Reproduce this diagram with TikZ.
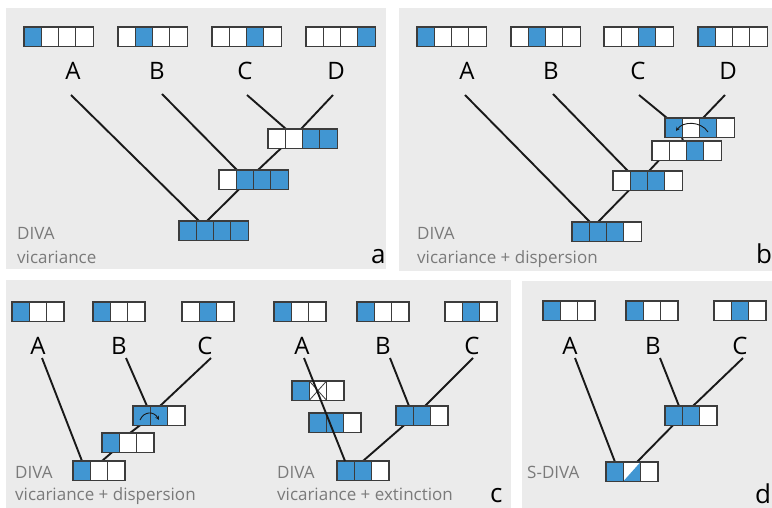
\documentclass[tikz,border=0pt]{standalone}
\usepackage{fontspec}
\setmainfont{Open Sans}
\usetikzlibrary{arrows.meta}
\pgfdeclarelayer{bg}
\pgfsetlayers{bg,main}
\definecolor{bgcol}{HTML}{EBEBEB}
\definecolor{divablue}{HTML}{4196D2}
\definecolor{boxline}{HTML}{3C3C3C}
\definecolor{txtgray}{HTML}{7A7A7A}
\def\cw{17.3}
\def\ch{19.3}
\newcommand\cellrow[5]{% name, x, y, n, pattern
  \foreach \v [count=\i] in {#5}{%
    \edef\cellcmd{\noexpand\path[cell-\v]}%
    \cellcmd ({#2+(\i-1)*\cw},#3) rectangle ++(\cw,\ch);
  }
  \node[rowbox, minimum width={#4*\cw}, anchor=north west] (#1) at (#2,#3) {};
}
\tikzset{
  panel/.style={fill=bgcol},
  branch/.style={draw=black!90, line width=1.9pt},
  taxon/.style={font=\fontsize{24}{28}\selectfont, anchor=base, inner sep=0pt},
  method/.style={font=\fontsize{17}{20}\selectfont, text=txtgray, anchor=base west, inner sep=0pt},
  panellabel/.style={font=\fontsize{26}{30}\selectfont, anchor=base west, inner sep=0pt},
  disp/.style={draw=black!90, line width=0.9pt, -{Stealth[length=4pt,width=4pt]}},
  rowbox/.style={draw=boxline, line width=1.2pt, inner sep=0pt, outer sep=0pt, minimum height={\ch}},
  cell-b/.style={fill=divablue, draw=boxline, line width=0.9pt},
  cell-w/.style={fill=white, draw=boxline, line width=0.9pt},
  cell-x/.style={fill=white, draw=boxline, line width=0.9pt,
    path picture={\draw[boxline, line width=0.8pt]
      (path picture bounding box.north west) -- (path picture bounding box.south east)
      (path picture bounding box.south west) -- (path picture bounding box.north east);}},
  cell-h/.style={fill=white, draw=boxline, line width=0.9pt,
    path picture={\fill[divablue]
      (path picture bounding box.south west) -- (path picture bounding box.south east)
      -- (path picture bounding box.north east) -- cycle;}},
}
\begin{document}
\begin{tikzpicture}[x=1pt,y=-1pt]
\useasboundingbox (0,0) rectangle (772,508);
\begin{pgfonlayer}{bg}
  \fill[panel] (6,8) rectangle (386,269);
  \fill[panel] (399,8) rectangle (772,271);
  \fill[panel] (6,280) rectangle (511,508);
  \fill[panel] (522,281) rectangle (772,508);
\end{pgfonlayer}

% ---------------- panel a ----------------
\cellrow{a-sA}{24}{27}{4}{b,w,w,w}
\cellrow{a-sB}{118}{27}{4}{w,b,w,w}
\cellrow{a-sC}{212}{27}{4}{w,w,b,w}
\cellrow{a-sD}{306}{27}{4}{w,w,w,b}
\node[taxon] (a-A) at (73,80) {A};
\node[taxon] (a-B) at (157,80) {B};
\node[taxon] (a-C) at (245,80) {C};
\node[taxon] (a-D) at (336,80) {D};
\coordinate (a-tA) at (71,95);
\coordinate (a-tB) at (162,94);
\coordinate (a-tC) at (247,95);
\coordinate (a-tD) at (333,95);
\cellrow{a-r}{179}{221}{4}{b,b,b,b}
\cellrow{a-n2}{219}{170}{4}{w,b,b,b}
\cellrow{a-n3}{268}{129}{4}{w,w,b,b}
\begin{pgfonlayer}{bg}
  \draw[branch] (a-tA) -- ([xshift=20pt]a-r.north west);
  \draw[branch] ([xshift=28pt]a-r.north west) -- ([xshift=20pt]a-n2.south west);
  \draw[branch] (a-tB) -- ([xshift=18pt]a-n2.north west);
  \draw[branch] ([xshift=39pt]a-n2.north west) -- ([xshift=13pt]a-n3.south west);
  \draw[branch] (a-tC) -- ([xshift=18pt]a-n3.north west);
  \draw[branch] (a-tD) -- ([xshift=33pt]a-n3.north west);
\end{pgfonlayer}
\node[method] (a-m1) at (17,240) {DIVA};
\node[method] (a-m2) at (17,263) {vicariance};
\node[panellabel] (a-lab) at (371,263) {a};

% ---------------- panel b ----------------
\cellrow{b-sA}{417}{27}{4}{b,w,w,w}
\cellrow{b-sB}{511}{27}{4}{w,b,w,w}
\cellrow{b-sC}{604}{27}{4}{w,w,b,w}
\cellrow{b-sD}{698}{27}{4}{b,w,w,w}
\node[taxon] (b-A) at (467,80) {A};
\node[taxon] (b-B) at (551,80) {B};
\node[taxon] (b-C) at (638,80) {C};
\node[taxon] (b-D) at (728,80) {D};
\coordinate (b-tA) at (465,95);
\coordinate (b-tB) at (553,94);
\coordinate (b-tC) at (639,95);
\coordinate (b-tD) at (725,95);
\cellrow{b-r}{572}{222}{4}{b,b,b,w}
\cellrow{b-n2}{613}{171}{4}{w,b,b,w}
\cellrow{b-n3}{652}{141}{4}{w,w,b,w}
\cellrow{b-n4}{665}{118}{4}{b,w,b,w}
\begin{pgfonlayer}{bg}
  \draw[branch] (b-tA) -- ([xshift=18pt]b-r.north west);
  \draw[branch] ([xshift=26pt]b-r.north west) -- ([xshift=16pt]b-n2.south west);
  \draw[branch] (b-tB) -- ([xshift=15pt]b-n2.north west);
  \draw[branch] ([xshift=36pt]b-n2.north west) -- ([xshift=7pt]b-n3.south west);
  \draw[branch] ([xshift=31pt]b-n3.north west) -- ([xshift=17pt]b-n4.south west);
  \draw[branch] (b-tC) -- ([xshift=2pt]b-n4.north west);
  \draw[branch] (b-tD) -- ([xshift=38pt]b-n4.north west);
\end{pgfonlayer}
\draw[disp] ([shift={(43,14)}]b-n4.north west) .. controls ([shift={(36,3)}]b-n4.north west) and ([shift={(18,3)}]b-n4.north west) .. ([shift={(11,13)}]b-n4.north west);
\node[method] (b-m1) at (417,240) {DIVA};
\node[method] (b-m2) at (417,263) {vicariance + dispersion};
\node[panellabel] (b-lab) at (756,263) {b};

% ---------------- panel c (left) ----------------
\cellrow{c-sA}{12}{302}{3}{b,w,w}
\cellrow{c-sB}{93}{302}{3}{b,w,w}
\cellrow{c-sC}{182}{302}{3}{w,b,w}
\node[taxon] (c-A) at (38,354) {A};
\node[taxon] (c-B) at (119,354) {B};
\node[taxon] (c-C) at (205,354) {C};
\coordinate (c-tA) at (42,358);
\coordinate (c-tB) at (126,358);
\coordinate (c-tC) at (211,358);
\cellrow{c-r}{73}{461}{3}{b,w,w}
\cellrow{c-n2}{102}{433}{3}{b,w,w}
\cellrow{c-n3}{133}{406}{3}{b,b,w}
\begin{pgfonlayer}{bg}
  \draw[branch] (c-tA) -- ([xshift=9pt]c-r.north west);
  \draw[branch] ([xshift=29pt]c-r.north west) -- ([xshift=10pt]c-n2.south west);
  \draw[branch] ([xshift=28pt]c-n2.north west) -- ([xshift=7pt]c-n3.south west);
  \draw[branch] (c-tB) -- ([xshift=14pt]c-n3.north west);
  \draw[branch] (c-tC) -- ([xshift=27pt]c-n3.north west);
\end{pgfonlayer}
\draw[disp] ([shift={(7,14)}]c-n3.north west) .. controls ([shift={(11,5)}]c-n3.north west) and ([shift={(21,5)}]c-n3.north west) .. ([shift={(26,14)}]c-n3.north west);
\node[method] (c-m1) at (15,478) {DIVA};
\node[method] (c-m2) at (15,500) {vicariance + dispersion};

% ---------------- panel c (right) ----------------
\cellrow{e-sA}{274}{302}{3}{b,w,w}
\cellrow{e-sB}{357}{302}{3}{b,w,w}
\cellrow{e-sC}{445}{302}{3}{w,b,w}
\node[taxon] (e-A) at (302,354) {A};
\node[taxon] (e-B) at (383,354) {B};
\node[taxon] (e-C) at (472,354) {C};
\coordinate (e-tA) at (304,358);
\coordinate (e-tB) at (390,358);
\coordinate (e-tC) at (473,358);
\cellrow{e-r}{337}{461}{3}{b,b,w}
\cellrow{e-x}{292}{381}{3}{b,x,w}
\cellrow{e-m}{309}{413}{3}{b,b,w}
\cellrow{e-n}{396}{406}{3}{b,b,w}
\draw[branch] (e-tA) -- ([xshift=8pt]e-r.north west);
\begin{pgfonlayer}{bg}
  \draw[branch] ([xshift=26pt]e-r.north west) -- ([xshift=8pt]e-n.south west);
  \draw[branch] (e-tB) -- ([xshift=13pt]e-n.north west);
  \draw[branch] (e-tC) -- ([xshift=29pt]e-n.north west);
\end{pgfonlayer}
\node[method] (e-m1) at (277,478) {DIVA};
\node[method] (e-m2) at (277,500) {vicariance + extinction};
\node[panellabel] (c-lab) at (490,502) {c};

% ---------------- panel d ----------------
\cellrow{d-sA}{543}{301}{3}{b,w,w}
\cellrow{d-sB}{626}{301}{3}{b,w,w}
\cellrow{d-sC}{714}{301}{3}{w,b,w}
\node[taxon] (d-A) at (570,354) {A};
\node[taxon] (d-B) at (653,354) {B};
\node[taxon] (d-C) at (740,354) {C};
\coordinate (d-tA) at (575,358);
\coordinate (d-tB) at (660,358);
\coordinate (d-tC) at (743,358);
\cellrow{d-r}{606}{462}{3}{b,h,w}
\cellrow{d-n}{665}{406}{3}{b,b,w}
\begin{pgfonlayer}{bg}
  \draw[branch] (d-tA) -- ([xshift=9pt]d-r.north west);
  \draw[branch] ([xshift=31pt]d-r.north west) -- ([xshift=8pt]d-n.south west);
  \draw[branch] (d-tB) -- ([xshift=14pt]d-n.north west);
  \draw[branch] (d-tC) -- ([xshift=28pt]d-n.north west);
\end{pgfonlayer}
\node[method] (d-m1) at (527,478) {S-DIVA};
\node[panellabel] (d-lab) at (755,503) {d};
\end{tikzpicture}
\end{document}
